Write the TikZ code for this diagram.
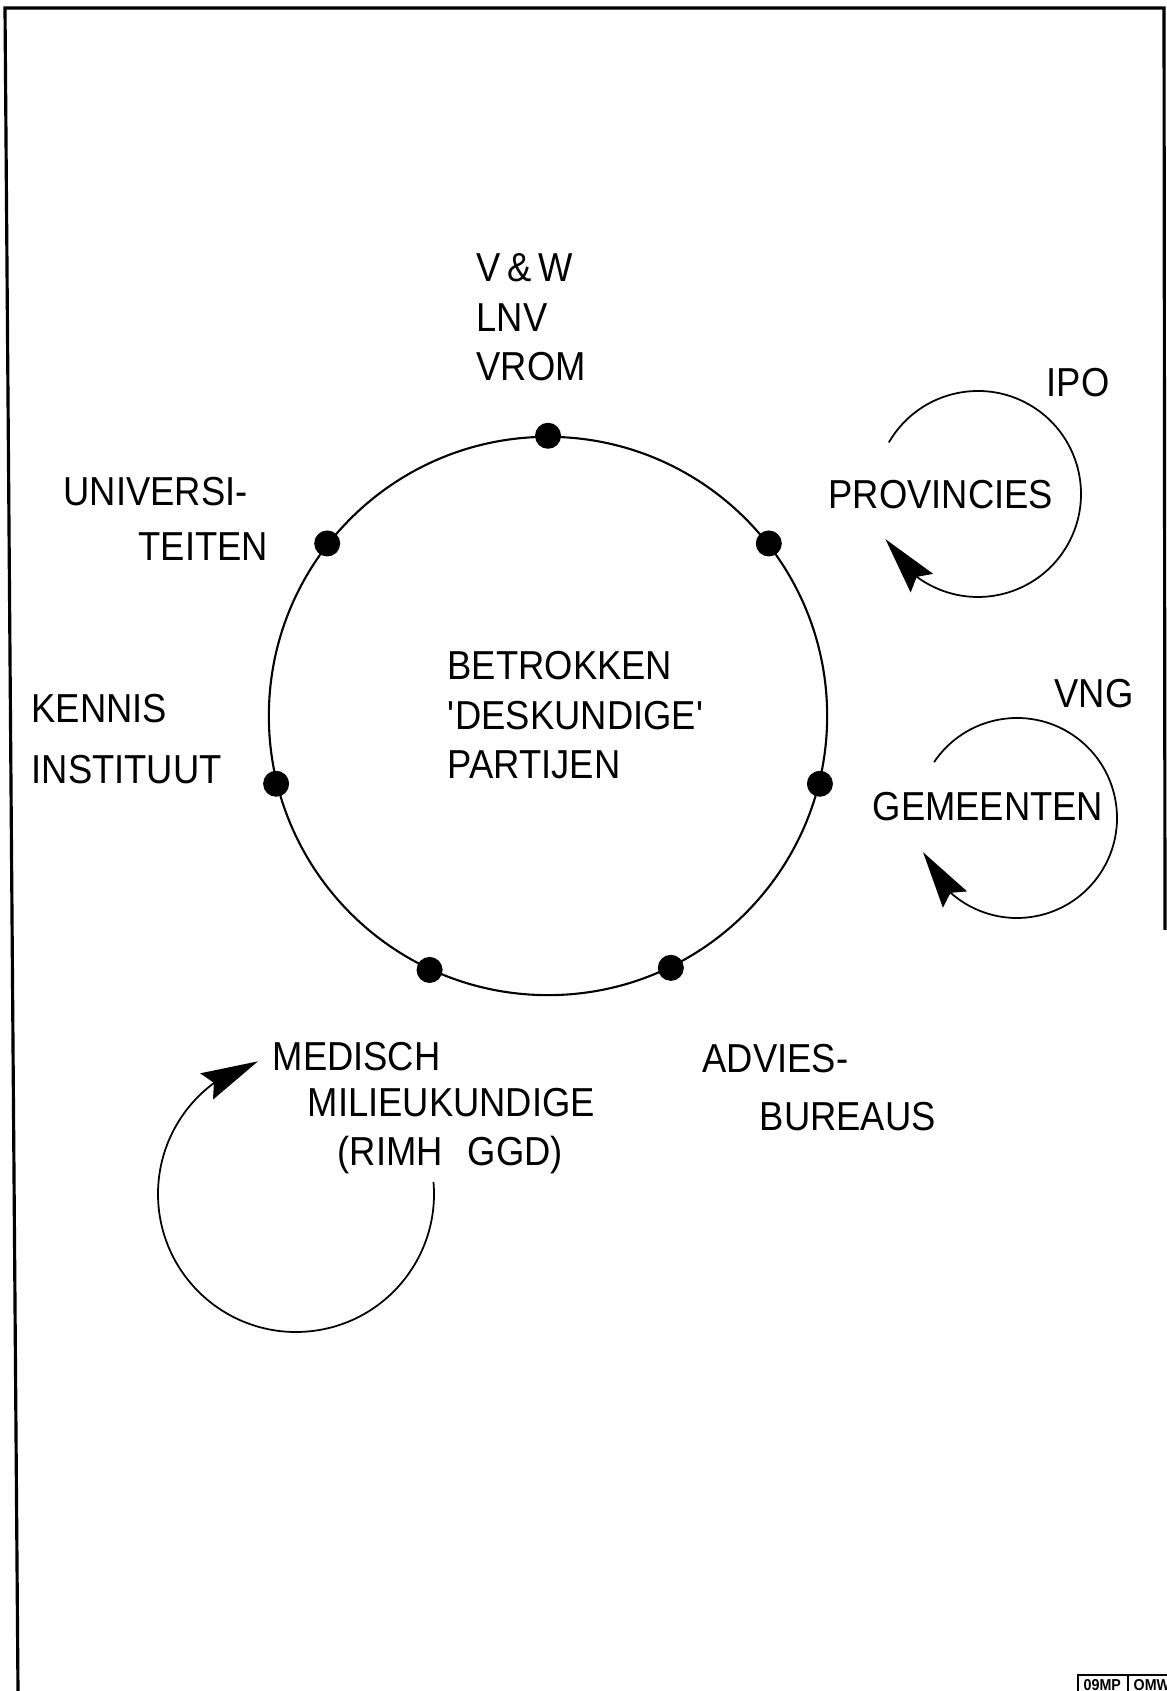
\documentclass[tikz,border=0pt]{standalone}
\usepackage{fontspec}
\setmainfont[FakeStretch=0.9]{Liberation Sans}
\usetikzlibrary{arrows.meta, bending, positioning}

\begin{document}
\begin{tikzpicture}[x=0.01cm, y=0.01cm,
    dot/.style={circle, fill, inner sep=0, minimum size=0.26cm},
    lbl/.style={anchor=base west, align=left, inner sep=0, font=\fontsize{11.5}{14.2}\selectfont},
    lus/.style={line width=0.5pt, -{Stealth[length=0.57cm, width=0.29cm, inset=0.08cm]}},
    code/.style={anchor=west, inner sep=0, font=\fontsize{4.5}{5}\selectfont\bfseries}]
    \useasboundingbox (0,0) rectangle (1166,1691);
    \draw[line width=0.9pt] (18,0) -- (5,1683) -- (1164,1683) -- (1165,761);

    \node[draw, circle, line width=0.6pt, minimum size=5.58cm, inner sep=0] (kring) at (548,975) {};
    \node[dot] (d1) at (kring.90) {};
    \node[dot] (d2) at (kring.38) {};
    \node[dot] (d3) at (kring.-14) {};
    \node[dot] (d4) at (kring.-64) {};
    \node[dot] (d5) at (kring.-115) {};
    \node[dot] (d6) at (kring.194) {};
    \node[dot] (d7) at (kring.142) {};

    \node[lbl] (midden) at (447,912) {BETROKKEN\\\textquotesingle DESKUNDIGE\textquotesingle\\PARTIJEN};
    \node[lbl] (rijk) at (476,1310) {V\,\&\,W\\LNV\\VROM};
    \node[lbl] (univ) at (63,1130) {UNIVERSI-\\[1.7pt]\hspace*{0.75cm}TEITEN};
    \node[lbl] (kennis) at (31,907) {KENNIS\\[3.2pt]INSTITUUT};
    \node[lbl] (ipo) at (1046,1294) {IPO};
    \node[lbl] (prov) at (828,1182) {PROVINCIES};
    \node[lbl] (vng) at (1054,983) {VNG};
    \node[lbl] (gem) at (872,870) {GEMEENTEN};
    \node[lbl] (advies) at (702,560) {ADVIES-\\[2.3pt]\hspace*{0.57cm}BUREAUS};
    \node[lbl, font=\fontsize{11.5}{13}\selectfont] (med) at (272,525)
        {MEDISCH\\\hspace*{0.35cm}MILIEUKUNDIGE\\[1.2pt]\hspace*{0.65cm}(RIMH\hspace{0.25cm}GGD)};

    \coordinate (cprov) at (978,1197);
    \coordinate (cgem) at (1017,873);
    \coordinate (cmed) at (296,497);
    \draw[lus] ([shift={(150:103)}]cprov) arc[start angle=150, end angle=-154, radius=103];
    \draw[lus] ([shift={(146:100)}]cgem) arc[start angle=146, end angle=-160, radius=100];
    \draw[lus] ([shift={(5:138)}]cmed) arc[start angle=5, end angle=-254, radius=138];

    \draw[line width=0.8pt] (1078,-5) rectangle (1185,16);
    \draw[line width=0.8pt] (1128,-5) -- (1128,16);
    \node[code] (nr) at (1083,6) {09MP};
    \node[code] (afd) at (1133,6) {OMW};
\end{tikzpicture}
\end{document}
